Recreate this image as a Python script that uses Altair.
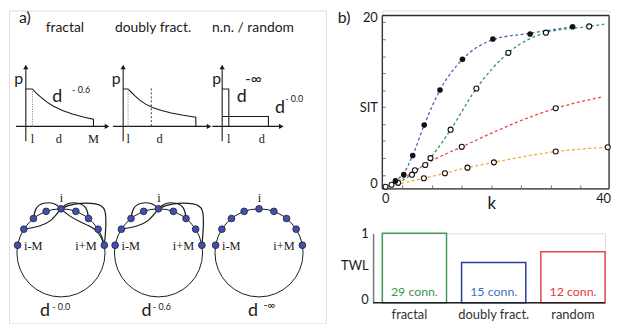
import altair as alt
import pandas as pd

SANS = "Lato"
SERIF = "Liberation Serif"
INK = "#1a1a1a"

# ================= panel b (top): SIT vs k =================
blue_k = [1.87, 3.4, 5.04, 7.15, 10.05, 14.18, 19.76, 26.6, 34.4]
blue_sit = [0.91, 1.63, 3.85, 7.35, 11.39, 14.94, 17.29, 17.86, 18.7]
green_k = [2.36, 4.91, 8.3, 12.0, 16.73, 22.6, 29.5, 37.45]
green_sit = [0.69, 1.63, 3.54, 6.82, 11.58, 15.69, 18.02, 18.74]
red_k = [1.15, 5.45, 7.33, 14.05, 31.3]
red_sit = [0.46, 2.13, 2.74, 4.84, 9.29]
orange_k = [0.05, 7.09, 10.96, 15.1, 19.95, 31.3, 40.85]
orange_sit = [0.23, 1.22, 1.79, 2.44, 3.05, 4.3, 4.8]

# dashed fitted curves
blue_fit_k = [0.9, 1.87, 3.4, 5.04, 7.15, 10.05, 14.18, 19.76, 26.6, 34.4]
blue_fit_sit = [0.35, 0.9, 1.8, 3.85, 7.35, 11.39, 14.94, 17.2, 17.95, 18.7]
green_fit_k = [2.3, 4.91, 8.3, 12.0, 16.73, 22.6, 29.5, 37.45, 40.2]
green_fit_sit = [0.6, 1.7, 3.6, 6.82, 11.58, 15.69, 18.02, 18.74, 19.0]
red_fit_k = [0.6, 5.45, 7.33, 14.05, 31.3, 40.05]
red_fit_sit = [0.25, 2.05, 2.8, 4.84, 9.29, 10.63]
orange_fit_k = [0.96, 7.09, 10.96, 15.1, 19.95, 31.3, 40.85]
orange_fit_sit = [0.34, 1.22, 1.79, 2.44, 3.05, 4.3, 4.8]

series_names = ["blue", "green", "red", "orange"]
series_colors = {"blue": "#4862c4", "green": "#2f9b52", "red": "#e84a3f", "orange": "#f5aa3c"}

y_inner_ticks = [1.5, 3.5, 5.5, 7.4, 9.4, 11.3, 13.3, 15.2, 17.2, 19.2]
x_inner_ticks = [3.2, 8.7, 14.1, 19.6, 25.0, 30.5, 35.9]
k_min, k_max = -0.545, 41.09
sit_min, sit_top, sit_max = 0.0, 20.0, 20.571

# ================= panel b (bottom): TWL bars =================
bar_cats = ["fractal", "doubly fract.", "random"]
bar_twl = [1.0, 0.58, 0.735]
bar_notes = ["29 conn.", "15 conn.", "12 conn."]
bar_stroke = {"fractal": "#3f9b58", "doubly fract.": "#2d3d99", "random": "#e3474a"}
bar_text_col = {"fractal": "#3a9a4a", "doubly fract.": "#3b6fc2", "random": "#e8393c"}

# ================= panel a: schematic geometry (page pixels) =================
plot_axis_lines = [
    [(25, 140), (25, 66)], [(15, 125), (105, 125)],
    [(123.3, 140), (123.3, 66)], [(113, 125), (208, 125)],
    [(223.3, 140), (223.3, 66)], [(213.3, 125), (281, 125)],
]
p1_curve = [(25, 87.3), (31.7, 87.3), (34, 89.8), (37, 92.6), (41, 96.2), (46, 100.2),
            (53, 104.6), (62, 108.9), (72, 112.4), (83, 115.5), (93.3, 117.8), (93.3, 125)]
p2_curve = [(123.3, 87.3), (128.3, 87.3), (131, 90), (135, 94), (140, 98.5), (146, 102.5),
            (153, 106), (162, 109), (172, 111.5), (184, 113.8), (196.7, 115.7), (196.7, 125)]
p3_tall = [(223.3, 87.3), (230, 87.3), (230, 125)]
p3_low = [(223.3, 115), (270, 115), (270, 125)]
dotted_lines = [[(31.7, 87.3), (31.7, 125)], [(128.3, 87.3), (128.3, 125)]]
dashed_lines = [[(151.7, 86.7), (151.7, 125)]]
arrow_x = [25, 107, 123.3, 210, 223.3, 283]
arrow_y = [65, 125, 65, 125, 65, 125]
arrow_shape = ["triangle-up", "triangle-right"] * 3

circle_cx = [60.5, 159.0, 260.5]
circle_cy = 252.7
node_dx = [-43.8, -37.5, -27.8, -15.0, 0.0, 15.0, 27.8, 37.5, 43.8]
node_dy = [-7.7, -23.9, -34.7, -41.9, -44.5, -41.9, -34.7, -23.9, -7.7]
link_offsets = {
    "L1": [(-27.8, -34.7), (-26, -46), (-18, -51), (-6, -50.5), (0, -44.5)],
    "L2": [(0, -44.5), (6, -50.5), (18, -51), (26.5, -46), (27.8, -34.7)],
    "L3": [(0, -44.5), (11, -50), (38, -50.5), (45.5, -45), (45.5, -25), (43.8, -7.7)],
    "L4": [(-37.5, -23.9), (-22, -26.5), (-10, -31.5), (0, -44.5)],
    "L5": [(0, -44.5), (9, -36.5), (21, -30.5), (33, -25.5), (40, -18), (43.8, -7.7)],
}
links_per_circle = [["L1", "L2", "L3", "L4", "L5"], ["L1", "L2", "L3", "L4"], []]

sans_text = ["a)", "b)", "fractal", "doubly fract.", "n.n. / random",
             "p", "p", "p", "d", "- 0.6", "d", "-\u221e", "d", "- 0.0",
             "d", "- 0.0", "d", "- 0.6", "d", "-\u221e"]
sans_x = [18, 340, 45, 115, 213, 13.3, 111.7, 213.3, 51.7, 71.7, 238, 246.7, 276.7, 287,
          39.3, 51.7, 141.7, 153.3, 249.3, 265]
sans_y = [21, 21, 29.5, 29.5, 29.5, 81.7, 81.7, 81.7, 100, 91.7, 100, 81.7, 111.7, 100,
          316.7, 310, 316.7, 310, 316.7, 309]
sans_size = [16, 16, 14, 14, 14, 16, 16, 16, 18, 9, 18, 15, 18, 9, 18, 9, 18, 9, 18, 11]

serif_text = ["l", "d", "M", "l", "d", "l", "d"]
serif_x = [31.7, 58.3, 93.3, 128.3, 160, 230, 263.3]
serif_y = [141.5] * 7
node_label_text = ["i", "i-M", "i+M"]
node_label_dx = [0.5, -28, 25.3]
node_label_y = [201.7, 250, 250]

# ---------------- build tables ----------------
def poly_rows(polys, prefix):
    rows = []
    for gi, pts in enumerate(polys):
        for oi, (x, y) in enumerate(pts):
            rows.append({"x": x, "y": y, "gid": f"{prefix}{gi}", "ord": oi})
    return pd.DataFrame(rows)

solid_df = poly_rows(plot_axis_lines + [p1_curve, p2_curve, p3_tall, p3_low], "s")
dotted_df = poly_rows(dotted_lines, "d")
dashed_df = poly_rows(dashed_lines, "h")

link_polys = []
for ci, cx in enumerate(circle_cx):
    for name in links_per_circle[ci]:
        link_polys.append([(cx + dx, circle_cy + dy) for dx, dy in link_offsets[name]])
link_df = poly_rows(link_polys, "L")

arrow_df = pd.DataFrame({"x": arrow_x, "y": arrow_y, "shape": arrow_shape})
circ_df = pd.DataFrame({"x": circle_cx, "y": [circle_cy] * 3})
node_df = pd.DataFrame([{"x": cx + dx, "y": circle_cy + dy}
                        for cx in circle_cx for dx, dy in zip(node_dx, node_dy)])
sans_df = pd.DataFrame({"x": sans_x, "y": sans_y, "t": sans_text, "fs": sans_size})
serif_rows = [{"x": x, "y": y, "t": t} for x, y, t in zip(serif_x, serif_y, serif_text)]
for cx in circle_cx:
    for t, dx, y in zip(node_label_text, node_label_dx, node_label_y):
        serif_rows.append({"x": cx + dx, "y": y, "t": t})
serif_df = pd.DataFrame(serif_rows)

AX = alt.Scale(domain=[8, 328], nice=False, zero=False)
AY = alt.Scale(domain=[8, 324], nice=False, zero=False, reverse=True)
ax_x = alt.X("x:Q", scale=AX, axis=None)
ax_y = alt.Y("y:Q", scale=AY, axis=None)

solid = alt.Chart(solid_df).mark_line(color=INK, strokeWidth=1.1).encode(
    x=ax_x, y=ax_y, detail="gid:N", order="ord:Q")
dotted = alt.Chart(dotted_df).mark_line(color="#777777", strokeWidth=1, strokeDash=[1, 1.5]).encode(
    x=ax_x, y=ax_y, detail="gid:N", order="ord:Q")
dashed = alt.Chart(dashed_df).mark_line(color="#222222", strokeWidth=0.9, strokeDash=[2, 2]).encode(
    x=ax_x, y=ax_y, detail="gid:N", order="ord:Q")
links = alt.Chart(link_df).mark_line(color=INK, strokeWidth=1.2, interpolate="basis").encode(
    x=ax_x, y=ax_y, detail="gid:N", order="ord:Q")
arrows = alt.Chart(arrow_df).mark_point(filled=True, color=INK, size=28, opacity=1).encode(
    x=ax_x, y=ax_y, shape=alt.Shape("shape:N", scale=None))
circles = alt.Chart(circ_df).mark_point(shape="circle", filled=False, size=7921, color=INK,
                                        strokeWidth=1, opacity=1).encode(x=ax_x, y=ax_y)
nodes = alt.Chart(node_df).mark_point(shape="circle", filled=True, size=46, fill="#4450a3",
                                      stroke="#1c1f4a", strokeWidth=0.8, opacity=1).encode(x=ax_x, y=ax_y)
sans_marks = alt.Chart(sans_df).mark_text(font=SANS, align="left", baseline="alphabetic", color=INK).encode(
    x=ax_x, y=ax_y, text="t:N", size=alt.Size("fs:Q", scale=None))
serif_marks = alt.Chart(serif_df).mark_text(font=SERIF, align="center", baseline="alphabetic",
                                            fontSize=12.5, color=INK).encode(x=ax_x, y=ax_y, text="t:N")

panel_a = alt.layer(solid, dotted, dashed, links, arrows, circles, nodes, sans_marks, serif_marks).properties(
    width=320, height=316)

# ---------------- panel b top chart ----------------
fit_rows = []
for name, ks, ss in [("blue", blue_fit_k, blue_fit_sit), ("green", green_fit_k, green_fit_sit),
                     ("red", red_fit_k, red_fit_sit), ("orange", orange_fit_k, orange_fit_sit)]:
    for i, (k, s) in enumerate(zip(ks, ss)):
        fit_rows.append({"k": k, "sit": s, "series": name, "col": series_colors[name], "ord": i})
fit_df = pd.DataFrame(fit_rows)
filled_df = pd.DataFrame({"k": blue_k, "sit": blue_sit})
open_df = pd.DataFrame({"k": green_k + red_k + orange_k, "sit": green_sit + red_sit + orange_sit})
ytick_df = pd.DataFrame({"sit": y_inner_ticks})
xtick_df = pd.DataFrame({"k": x_inner_ticks})
frame_df = pd.DataFrame({
    "k": [k_min, k_min, k_min, k_max],
    "k2": [k_max, k_max, k_min, k_max],
    "sit": [sit_top, sit_min, sit_min, sit_min],
    "sit2": [sit_top, sit_min, sit_top, sit_top],
})

XS = alt.Scale(domain=[k_min, k_max], nice=False, zero=False)
YS = alt.Scale(domain=[sit_min, sit_max], nice=False, zero=False)
x_axis = alt.Axis(values=[0, 40], ticks=False, domain=False, grid=False, labelFontSize=13,
                  labelPadding=4, labelColor=INK, title="k", titleX=110, titleY=20,
                  titleBaseline="alphabetic", titleAlign="center", titleFontSize=17,
                  titleFontWeight="normal", titleColor=INK)
y_axis = alt.Axis(values=[0.6, 9.4, 19.8], ticks=False, domain=False, grid=False,
                  labelExpr="datum.value < 1 ? '0' : (datum.value < 15 ? 'SIT' : '20')",
                  labelFontSize=13, labelPadding=5, labelColor=INK, title=None)
bx = alt.X("k:Q", scale=XS, axis=x_axis)
by = alt.Y("sit:Q", scale=YS, axis=y_axis)

frame = alt.Chart(frame_df).mark_rule(color="#2b2b2b", strokeWidth=1.3).encode(
    x=bx, x2="k2:Q", y=by, y2="sit2:Q")
fits = alt.Chart(fit_df).mark_line(strokeWidth=1.3, strokeDash=[3, 2.5], interpolate="monotone").encode(
    x=bx, y=by, detail="series:N", order="ord:Q", color=alt.Color("col:N", scale=None))
open_pts = alt.Chart(open_df).mark_point(shape="circle", filled=True, fill="white", stroke="#111111",
                                         strokeWidth=1.1, size=26, opacity=1).encode(x=bx, y=by)
filled_pts = alt.Chart(filled_df).mark_point(shape="circle", filled=True, color="#111111",
                                             size=32, opacity=1).encode(x=bx, y=by)
yticks = alt.Chart(ytick_df).mark_rule(color="#555555", strokeWidth=0.8).encode(
    y=by, x=alt.value(0), x2=alt.value(3.5))
xticks = alt.Chart(xtick_df).mark_rule(color="#555555", strokeWidth=0.8).encode(
    x=bx, y=alt.value(180), y2=alt.value(176.5))

top_chart = alt.layer(frame, yticks, xticks, fits, open_pts, filled_pts).properties(
    width=229, height=180)

# ---------------- panel b bottom chart ----------------
bar_df = pd.DataFrame({"cat": bar_cats, "twl": bar_twl, "note": bar_notes, "base": [0.0] * 3,
                       "scol": [bar_stroke[c] for c in bar_cats],
                       "tcol": [bar_text_col[c] for c in bar_cats]})
base_df = pd.DataFrame({"twl": [0.0]})

bar_x = alt.X("cat:N", sort=bar_cats,
              scale=alt.Scale(domain=bar_cats, paddingInner=0.19, paddingOuter=0),
              axis=alt.Axis(title=None, labelAngle=0, ticks=False, domain=False, grid=False,
                            labelFontSize=13, labelPadding=6, labelColor="#333333",
                            labelOffset={"condition": {"test": "datum.value === 'fractal'", "value": -5},
                                         "value": 0}))
bar_yaxis = alt.Axis(values=[0.04, 0.54, 1.0], ticks=False, grid=False, title=None,
                     labelExpr="datum.value < 0.2 ? '0' : (datum.value < 0.9 ? 'TWL' : '1')",
                     labelFontSize=13, labelPadding=5, labelColor=INK, offset=9.3,
                     domainColor="#777777", domainWidth=1.5)
BYS = alt.Scale(domain=[0, 1], nice=False, zero=True)

bars = alt.Chart(bar_df).mark_bar(fillOpacity=0, strokeWidth=1.5).encode(
    x=bar_x, y=alt.Y("twl:Q", scale=BYS, axis=bar_yaxis), stroke=alt.Stroke("scol:N", scale=None))
notes = alt.Chart(bar_df).mark_text(font=SANS, fontSize=12.5, baseline="alphabetic", dy=-7).encode(
    x=bar_x, y=alt.Y("base:Q", scale=BYS, axis=bar_yaxis), text="note:N",
    color=alt.Color("tcol:N", scale=None))
baseline = alt.Chart(base_df).mark_rule(color="#222222", strokeWidth=1.5).encode(
    y=alt.Y("twl:Q", scale=BYS, axis=bar_yaxis), x=alt.value(-9.3), x2=alt.value(225))

bar_chart = alt.layer(bars, baseline, notes).properties(width=225, height=70)

right = alt.vconcat(top_chart, bar_chart, spacing=45, bounds="flush")

chart = alt.hconcat(panel_a, right, spacing=57, bounds="flush").properties(
    padding=0
).configure_view(stroke="transparent").configure_axis(
    grid=False, labelFont=SANS, titleFont=SANS
).configure(font=SANS)

chart.save("out.html", embed_options={"renderer": "svg", "actions": False})
